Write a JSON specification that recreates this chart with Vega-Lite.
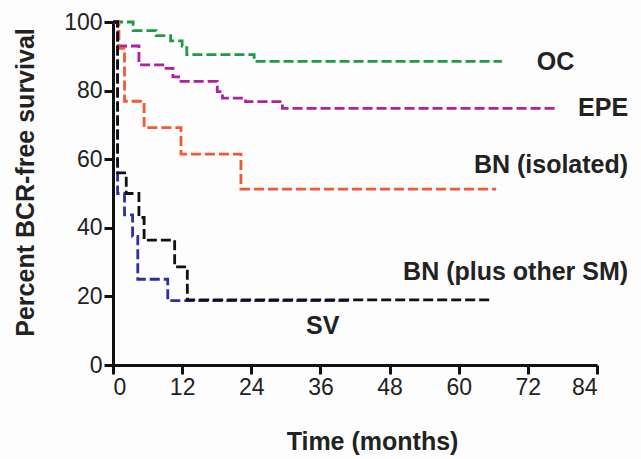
{
  "$schema": "https://vega.github.io/schema/vega-lite/v6.json",
  "width": 484,
  "height": 343,
  "autosize": "none",
  "padding": {"left": 113, "top": 22, "right": 44, "bottom": 94},
  "background": "#fdfdfd",
  "config": {
    "view": {"stroke": null},
    "font": "Liberation Sans",
    "axis": {
      "domainColor": "#111",
      "domainWidth": 3,
      "tickColor": "#111",
      "tickWidth": 3,
      "tickSize": 9,
      "grid": false,
      "labelFont": "Liberation Sans",
      "labelFontSize": 23,
      "labelColor": "#222",
      "labelPadding": 2,
      "titleFont": "Liberation Sans",
      "titleFontSize": 25,
      "titleFontWeight": "bold",
      "titleColor": "#222"
    }
  },
  "datasets": {
    "curves": [
      {"group": "OC", "month": 0, "pct": 100},
      {"group": "OC", "month": 3.5, "pct": 97.5},
      {"group": "OC", "month": 7.5, "pct": 96},
      {"group": "OC", "month": 10, "pct": 94.5},
      {"group": "OC", "month": 12, "pct": 93},
      {"group": "OC", "month": 12.8, "pct": 90.5},
      {"group": "OC", "month": 24.5, "pct": 88.5},
      {"group": "OC", "month": 67.5, "pct": 88.5},
      {"group": "EPE", "month": 0, "pct": 100},
      {"group": "EPE", "month": 1, "pct": 93},
      {"group": "EPE", "month": 4.5, "pct": 87.5},
      {"group": "EPE", "month": 8.9, "pct": 86.5},
      {"group": "EPE", "month": 10.4, "pct": 84},
      {"group": "EPE", "month": 11.8, "pct": 82.7},
      {"group": "EPE", "month": 18.1, "pct": 79.7},
      {"group": "EPE", "month": 19, "pct": 77.8},
      {"group": "EPE", "month": 23, "pct": 76.8},
      {"group": "EPE", "month": 29.4, "pct": 74.8},
      {"group": "EPE", "month": 77, "pct": 74.8},
      {"group": "BN (isolated)", "month": 0, "pct": 100},
      {"group": "BN (isolated)", "month": 1, "pct": 92.3},
      {"group": "BN (isolated)", "month": 2, "pct": 76.9},
      {"group": "BN (isolated)", "month": 5.4, "pct": 69.2},
      {"group": "BN (isolated)", "month": 11.8, "pct": 61.5},
      {"group": "BN (isolated)", "month": 22.2, "pct": 51.3},
      {"group": "BN (isolated)", "month": 66.5, "pct": 51.3},
      {"group": "SV", "month": 0, "pct": 100},
      {"group": "SV", "month": 0.8, "pct": 50},
      {"group": "SV", "month": 2, "pct": 43.75},
      {"group": "SV", "month": 3.4, "pct": 37.5},
      {"group": "SV", "month": 4.3, "pct": 25},
      {"group": "SV", "month": 9.5, "pct": 18.75},
      {"group": "SV", "month": 41, "pct": 18.75},
      {"group": "BN (plus other SM)", "month": 0, "pct": 100},
      {"group": "BN (plus other SM)", "month": 0.8, "pct": 56},
      {"group": "BN (plus other SM)", "month": 2.3, "pct": 50},
      {"group": "BN (plus other SM)", "month": 4.5, "pct": 43},
      {"group": "BN (plus other SM)", "month": 5.4, "pct": 36.4},
      {"group": "BN (plus other SM)", "month": 10.7, "pct": 28.6},
      {"group": "BN (plus other SM)", "month": 12.9, "pct": 19},
      {"group": "BN (plus other SM)", "month": 65.5, "pct": 19}
    ],
    "labels": [
      {"text": "OC", "month": 76.8, "pct": 88.3, "anchor": "center"},
      {"text": "EPE", "month": 89.4, "pct": 75, "anchor": "right"},
      {"text": "BN (isolated)", "month": 89.4, "pct": 58.3, "anchor": "right"},
      {"text": "BN (plus other SM)", "month": 89.4, "pct": 27.1, "anchor": "right"},
      {"text": "SV", "month": 36.4, "pct": 11.4, "anchor": "center"}
    ]
  },
  "layer": [
    {
      "data": {"name": "curves"},
      "mark": {"type": "line", "interpolate": "step-after", "strokeDash": [10, 4], "strokeWidth": 2.8, "clip": false},
      "encoding": {
        "x": {
          "field": "month", "type": "quantitative",
          "scale": {"domain": [0, 84], "nice": false, "zero": false},
          "axis": {"values": [0, 12, 24, 36, 48, 60, 72, 84], "title": "Time (months)", "titleX": 259, "titleY": 84, "titleBaseline": "alphabetic", "titleAlign": "center"}
        },
        "y": {
          "field": "pct", "type": "quantitative",
          "scale": {"domain": [0, 100], "nice": false},
          "axis": {"values": [0, 20, 40, 60, 80, 100], "title": "Percent BCR-free survival", "titleX": -88, "titleY": 160, "titleBaseline": "middle", "titleAlign": "center", "titleAngle": -90}
        },
        "color": {
          "field": "group", "type": "nominal",
          "scale": {
            "domain": ["OC", "EPE", "BN (isolated)", "SV", "BN (plus other SM)"],
            "range": ["#1f9a45", "#b0219e", "#f4582f", "#2e2ea8", "#111111"]
          },
          "legend": null
        },
        "detail": {"field": "group"}
      }
    },
    {
      "data": {"name": "labels"},
      "transform": [{"filter": "datum.anchor === 'center'"}],
      "mark": {"type": "text", "fontSize": 25, "fontWeight": "bold", "font": "Liberation Sans", "color": "#222", "align": "center", "baseline": "middle", "clip": false},
      "encoding": {
        "x": {"field": "month", "type": "quantitative"},
        "y": {"field": "pct", "type": "quantitative"},
        "text": {"field": "text"}
      }
    },
    {
      "data": {"name": "labels"},
      "transform": [{"filter": "datum.anchor === 'right'"}],
      "mark": {"type": "text", "fontSize": 25, "fontWeight": "bold", "font": "Liberation Sans", "color": "#222", "align": "right", "baseline": "middle", "clip": false},
      "encoding": {
        "x": {"field": "month", "type": "quantitative"},
        "y": {"field": "pct", "type": "quantitative"},
        "text": {"field": "text"}
      }
    }
  ]
}
